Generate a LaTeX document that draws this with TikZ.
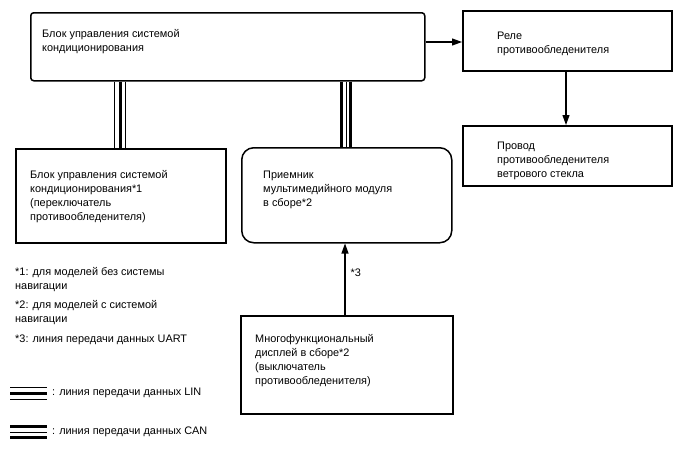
\documentclass[tikz,border=0pt]{standalone}
\usepackage{fontspec}
\setmainfont{Liberation Sans}
\usepackage{tikz}
\usetikzlibrary{calc,arrows.meta,positioning}

\tikzset{
  unit/.style={draw=black, line width=1.5pt, anchor=north west, inner sep=0pt},
  lbl/.style={anchor=north west, inner sep=0pt, align=left, font=\fontsize{10.9}{14}\selectfont},
  sig/.style={line width=1.1pt, -{Triangle[length=10pt,width=7pt]}}
}

\begin{document}
\begin{tikzpicture}[x=1pt,y=-1pt]
\useasboundingbox (0,0) rectangle (688,463);

% blocks
\node[unit, rounded corners=3pt, minimum width=394pt, minimum height=68pt] (acu) at (30,12) {};
\node[unit, minimum width=210pt, minimum height=94pt] (acsw) at (15,148) {};
\node[unit, rounded corners=12pt, minimum width=210pt, minimum height=95pt] (rcv) at (241,147) {};
\node[unit, minimum width=209pt, minimum height=60pt] (relay) at (462,10) {};
\node[unit, minimum width=209pt, minimum height=60pt] (wire) at (462,125) {};
\node[unit, minimum width=212pt, minimum height=98pt] (disp) at (240,315) {};

% texts in the blocks
\node[lbl, below right=17pt and 12pt of acu.north west] {Блок управления системой\\кондиционирования};
\node[lbl, below right=22.5pt and 15pt of acsw.north west] {Блок управления системой\\кондиционирования*1\\(переключатель\\противообледенителя)};
\node[lbl, below right=23.5pt and 22pt of rcv.north west] {Приемник\\мультимедийного модуля\\в сборе*2};
\node[lbl, below right=21.5pt and 35pt of relay.north west] {Реле\\противообледенителя};
\node[lbl, below right=16.5pt and 35pt of wire.north west] {Провод\\противообледенителя\\ветрового стекла};
\node[lbl, below right=19.5pt and 15pt of disp.north west] {Многофункциональный\\дисплей в сборе*2\\(выключатель\\противообледенителя)};

% signal lines
\draw[sig] (acu.east |- 0,42) -- (relay.west |- 0,42);
\draw[sig] (relay.south -| 566,0) -- (wire.north -| 566,0);
\draw[sig] (disp.north -| 345,0) -- (rcv.south -| 345,0) node[pos=0.59, right=5pt, lbl, anchor=west] {*3};

% LIN and CAN buses
\coordinate (linx) at (120,0);
\coordinate (canx) at (346,0);
\foreach \dx/\w in {-5.5/0.8, 0/3, 5.5/0.8}
  \draw[line width=\w pt] ($(acu.south -| linx)+(\dx,0)$) -- ($(acsw.north -| linx)+(\dx,0)$);
\foreach \dx/\w in {-4.5/3, 0/0.8, 4.5/3}
  \draw[line width=\w pt] ($(acu.south -| canx)+(\dx,0)$) -- ($(rcv.north -| canx)+(\dx,0)$);

% notes
\node[lbl] (n1) at (15,267.5) {*1: для моделей без системы\\навигации};
\node[lbl, below=8pt of n1.south west, anchor=north west] (n2) {*2: для моделей с системой\\навигации};
\node[lbl, below=10pt of n2.south west, anchor=north west] (n3) {*3: линия передачи данных UART};

% legend
\coordinate (lin) at (10,393);
\coordinate (can) at (10,432);
\foreach \dy/\w in {-6/0.8, 0/3, 6/0.8}
  \draw[line width=\w pt] ($(lin)+(0,\dy)$) -- ++(37,0);
\foreach \dy/\w in {-5.5/3, 0/0.8, 5.5/3}
  \draw[line width=\w pt] ($(can)+(0,\dy)$) -- ++(37,0);
\node[lbl, anchor=west] at ($(lin)+(42,0)$) {: линия передачи данных LIN};
\node[lbl, anchor=west] at ($(can)+(42,0)$) {: линия передачи данных CAN};
\end{tikzpicture}
\end{document}
